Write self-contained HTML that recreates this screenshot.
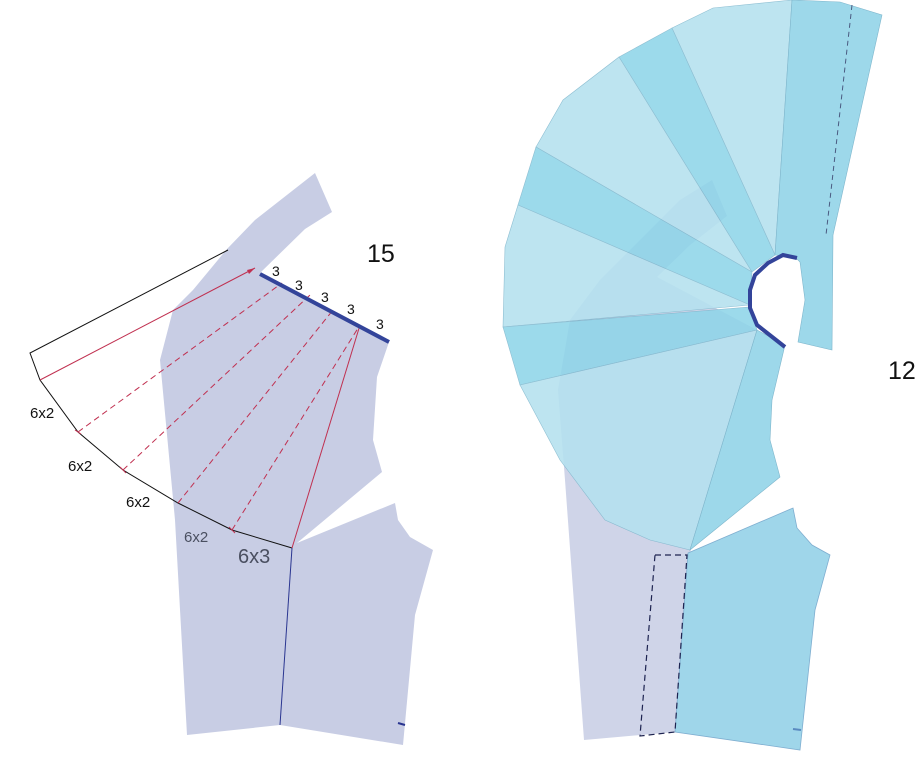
<!DOCTYPE html>
<html><head><meta charset="utf-8"><style>
html,body{margin:0;padding:0;background:#fff;}
svg{display:block;}
text{font-family:"Liberation Sans","DejaVu Sans",sans-serif;}
</style></head><body>
<svg width="924" height="768" viewBox="0 0 924 768" xmlns="http://www.w3.org/2000/svg">
<polygon fill="#c8cde4" points="315,173 332,212 305,229 260,273 389,342 377,377 373,440 382,472 297,543 395,503 398,520 410,537 433,550 415,615 403,745 280,725 187,735 175,520 160,360 173,310 193,290 227,249 255,220"/>
<path d="M228,250 L30,353 L40,380 L78,432 L123,470 L178,503 L232,530 L292,548" fill="none" stroke="#111" stroke-width="1"/>
<g stroke="#c03050" stroke-width="1">
<line x1="40" y1="380" x2="255" y2="268"/>
<line x1="292" y1="548" x2="360" y2="325"/>
<g stroke-dasharray="6,4">
<line x1="78" y1="432" x2="282" y2="283"/>
<line x1="123" y1="470" x2="310" y2="295"/>
<line x1="178" y1="503" x2="333" y2="310"/>
<line x1="232" y1="530" x2="360" y2="325"/>
</g>
<line x1="75" y1="430" x2="81" y2="434"/><line x1="120" y1="467" x2="126" y2="473"/>
<line x1="229" y1="527" x2="235" y2="533"/>
</g>
<polygon points="255,268 247,270 249,274" fill="#c03050"/>
<line x1="260" y1="274" x2="389" y2="342" stroke="#33449a" stroke-width="4"/>
<line x1="292" y1="548" x2="280" y2="725" stroke="#2a3590" stroke-width="1"/>
<line x1="398" y1="723" x2="405" y2="725" stroke="#2a3590" stroke-width="2"/>
<g font-size="14" fill="#111">
<text x="272" y="276">3</text><text x="295" y="290">3</text><text x="321" y="302">3</text><text x="347" y="314">3</text><text x="376" y="329">3</text>
</g>
<text x="367" y="262" font-size="25" fill="#111">15</text>
<g font-size="15" fill="#111">
<text x="30" y="418">6x2</text><text x="68" y="471">6x2</text><text x="126" y="507">6x2</text>
</g>
<text x="184" y="542" font-size="15" fill="#4a4f60">6x2</text>
<text x="238" y="563" font-size="20" fill="#4a4f60">6x3</text>

<polygon fill="#cfd4e8" points="712,180 727,216 690,245 657,277 757,330 690,553 675,732 584,740 565,480 558,390 570,320 600,280 640,240 680,200"/>
<g stroke="#7fb6cc" stroke-width="0.6" opacity="0.88">
<polygon fill="#b4e1ef" points="672,28 713,8 792,0 775,255"/>
<polygon fill="#8fd5e9" points="619,57 672,28 775,255 752,272"/>
<polygon fill="#b4e1ef" points="536,147 563,100 619,57 752,272"/>
<polygon fill="#8fd5e9" points="518,205 536,147 752,272 750,305"/>
<polygon fill="#b4e1ef" points="505,247 503,327 750,305 518,205"/>
<polygon fill="#8fd5e9" points="503,327 520,385 757,330 750,307"/>
<polygon fill="#b4e1ef" points="520,385 560,460 605,520 650,540 690,550 757,330"/>
</g>
<polygon fill="#9dd8ea" stroke="#7fb6cc" stroke-width="0.6" points="690,550 757,330 785,345 772,400 770,440 780,477"/>
<polygon fill="#9dd8ea" stroke="#7fb6cc" stroke-width="0.6" points="792,0 840,2 882,15 833,235 832,350 798,342 805,300 800,262 795,257 775,255"/>
<polygon fill="#9fd6ea" stroke="#7faed0" stroke-width="0.8" points="688,553 793,508 797,528 812,545 830,555 815,610 800,750 675,732"/>
<polygon fill="none" stroke="#1d2350" stroke-width="1.2" stroke-dasharray="6,4" points="655,555 687,555 675,732 640,736"/>
<line x1="852" y1="5" x2="826" y2="235" stroke="#4a5a80" stroke-width="1" stroke-dasharray="5,4"/>
<polyline fill="none" stroke="#33449a" stroke-width="4" points="797,258 783,255 768,263 755,275 750,290 750,308 757,325 785,347"/>
<line x1="793" y1="729" x2="801" y2="730" stroke="#5a8ac0" stroke-width="2"/>
<text x="888" y="379" font-size="25" fill="#111">12</text>
</svg>
</body></html>
